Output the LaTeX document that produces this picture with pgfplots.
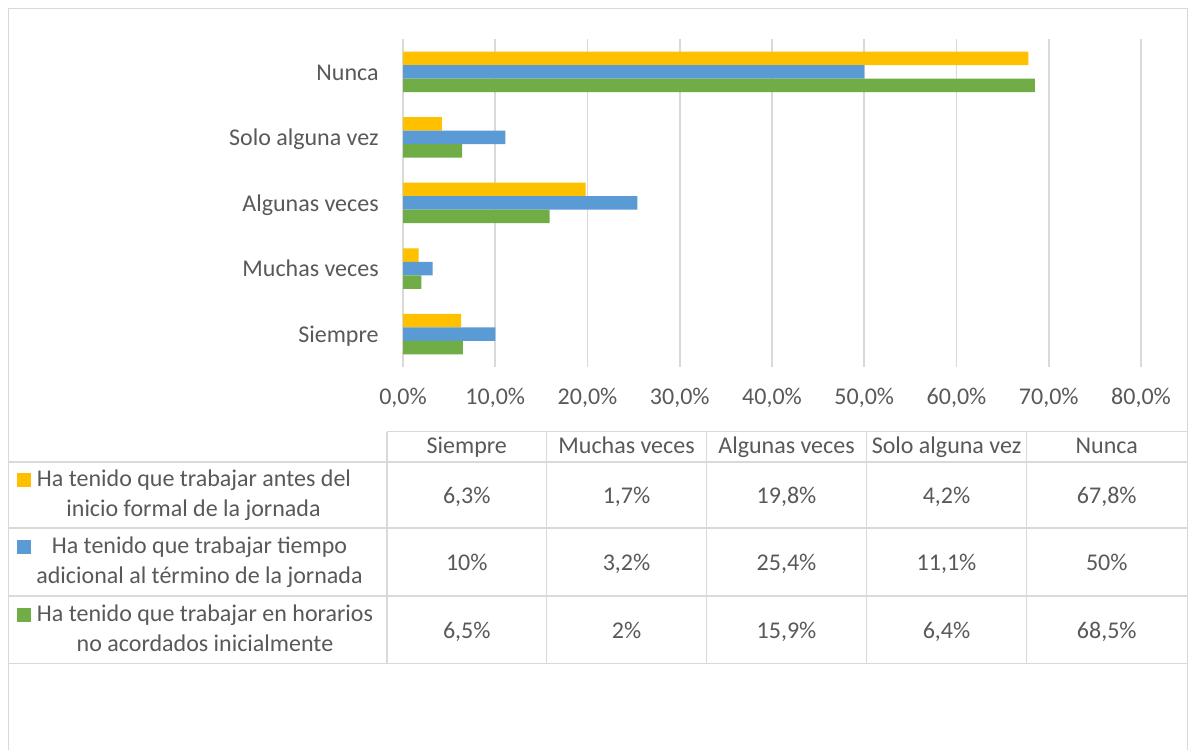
\documentclass[border=0pt]{standalone}
\usepackage{pgfplots}
\pgfplotsset{compat=1.18}
\usepackage{fontspec}
\setmainfont{Carlito}
\definecolor{cOr}{HTML}{FFC000}
\definecolor{cBl}{HTML}{5B9BD5}
\definecolor{cGr}{HTML}{70AD47}
\definecolor{cTx}{HTML}{595959}
\definecolor{cGrid}{HTML}{D9D9D9}
\begin{document}
\begin{tikzpicture}[font=\fontsize{12}{14.4}\selectfont,text=cTx]
\begin{scope}[x=0.5pt,y=0.5pt]
\useasboundingbox (0,0) rectangle (1197,749);
\fill[white] (0,0) rectangle (1197,749);
% outer chart border
\draw[cGrid,line width=0.8pt] (8.5,-10) -- (8.5,740.5) -- (1187.5,740.5) -- (1187.5,-10);
\end{scope}
\begin{axis}[
  at={(201.5pt,191pt)}, anchor=south west,
  scale only axis, width=369pt, height=164pt,
  xmin=0, xmax=80, ymin=-0.5, ymax=4.5,
  xbar, bar width=6.75pt,
  xtick={0,10,...,80},
  xticklabels={{0,0\%},{10,0\%},{20,0\%},{30,0\%},{40,0\%},{50,0\%},{60,0\%},{70,0\%},{80,0\%}},
  ytick={0,1,2,3,4},
  yticklabels={Siempre,Muchas veces,Algunas veces,Solo alguna vez,Nunca},
  xticklabel style={anchor=base,inner sep=0pt,yshift=-19pt,text=cTx},
  yticklabel style={anchor=base east,inner sep=0pt,xshift=-12pt,yshift=-4.15pt,text=cTx},
  axis line style={draw=none},
  major tick length=0pt,
  tick style={draw=none},
  xmajorgrids,
  grid style={cGrid,line width=0.8pt},
  clip=false,
]
\addplot[fill=cOr,draw=none,bar shift=6.75pt] coordinates {(6.3,0) (1.7,1) (19.8,2) (4.2,3) (67.8,4)};
\addplot[fill=cBl,draw=none,bar shift=0pt] coordinates {(10,0) (3.2,1) (25.4,2) (11.1,3) (50,4)};
\addplot[fill=cGr,draw=none,bar shift=-6.75pt] coordinates {(6.5,0) (2,1) (15.9,2) (6.4,3) (68.5,4)};
\end{axis}
\begin{scope}[x=0.5pt,y=0.5pt]
% data table grid
\begin{scope}[cGrid,line width=0.8pt]
\draw (387,317.3) -- (1187.5,317.3);
\draw (8.5,287) -- (1187.5,287);
\draw (8.5,220.7) -- (1187.5,220.7);
\draw (8.5,153) -- (1187.5,153);
\draw (8.5,85.7) -- (1187.5,85.7);
\foreach \xx in {387,546.5,706.5,866.5,1026.5} \draw (\xx,317.3) -- (\xx,85.7);
\end{scope}
% header
\foreach \xx/\tt in {466.75/Siempre,626.5/Muchas veces,786.5/Algunas veces,946.5/Solo alguna vez,1106.75/Nunca}
  \node[anchor=base,inner sep=0pt] at (\xx,295.5) {\tt};
% values
\foreach \xx/\tt in {466.75/{6,3\%},626.5/{1,7\%},786.5/{19,8\%},946.5/{4,2\%},1106.75/{67,8\%}}
  \node[anchor=base,inner sep=0pt] at (\xx,245.7) {\tt};
\foreach \xx/\tt in {466.75/{10\%},626.5/{3,2\%},786.5/{25,4\%},946.5/{11,1\%},1106.75/{50\%}}
  \node[anchor=base,inner sep=0pt] at (\xx,178.3) {\tt};
\foreach \xx/\tt in {466.75/{6,5\%},626.5/{2\%},786.5/{15,9\%},946.5/{6,4\%},1106.75/{68,5\%}}
  \node[anchor=base,inner sep=0pt] at (\xx,110.7) {\tt};
% legend keys
\fill[cOr] (17,262) rectangle (31,276);
\fill[cBl] (17,195) rectangle (31,209);
\fill[cGr] (17,127) rectangle (31,141);
% series names
\node[anchor=base,inner sep=0pt] at (194,262.3) {Ha tenido que trabajar antes del};
\node[anchor=base,inner sep=0pt] at (193.5,232.3) {inicio formal de la jornada};
\node[anchor=base,inner sep=0pt] at (199.5,195.7) {Ha tenido que trabajar tiempo};
\node[anchor=base,inner sep=0pt] at (199.5,165.7) {adicional al término de la jornada};
\node[anchor=base,inner sep=0pt] at (205,127.3) {Ha tenido que trabajar en horarios};
\node[anchor=base,inner sep=0pt] at (205,98) {no acordados inicialmente};
\end{scope}
\end{tikzpicture}
\end{document}
